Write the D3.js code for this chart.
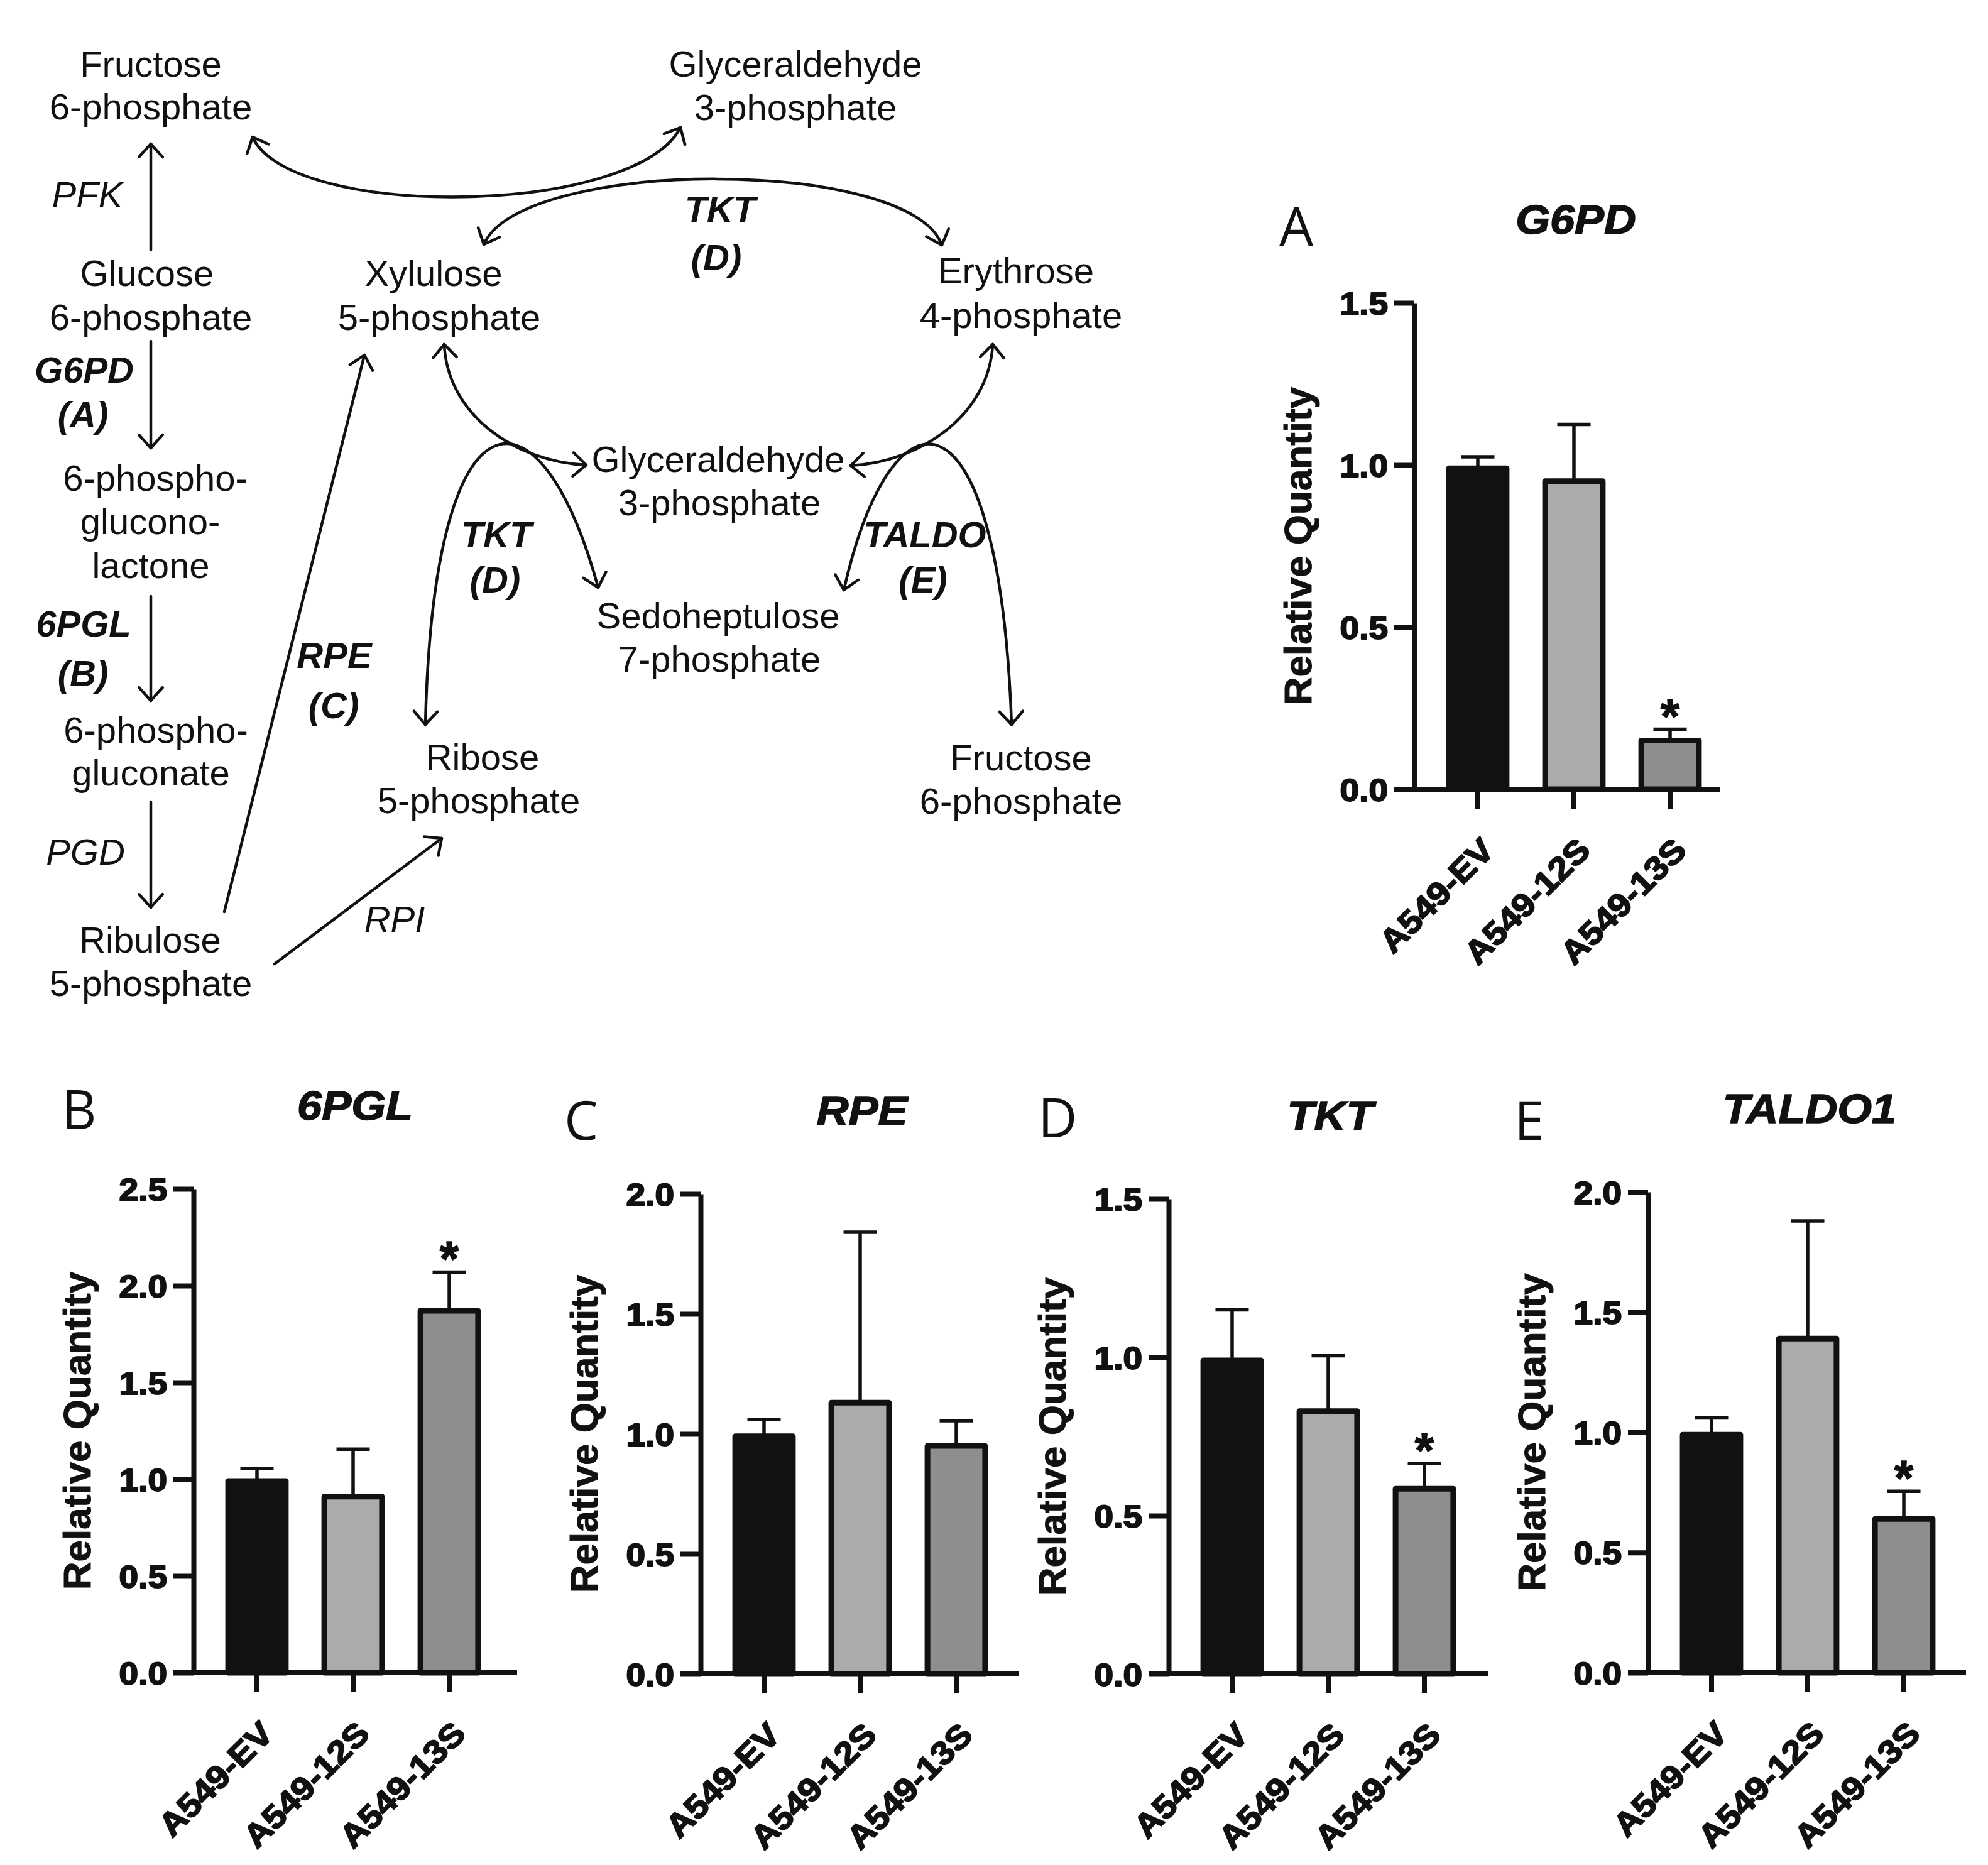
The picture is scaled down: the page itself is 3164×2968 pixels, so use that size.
<!DOCTYPE html>
<html><head><meta charset="utf-8">
<script src="https://cdn.jsdelivr.net/npm/d3@7"></script>
<style>body{margin:0;background:#fff} svg{display:block;background:#fff}</style>
</head><body>
<svg id="fig" width="3164" height="2968"></svg>
<script>
// ---------------- DATA ----------------
const categories = ["A549-EV", "A549-12S", "A549-13S"];
const g6pdValues  = [0.99, 0.95, 0.15];
const g6pdErrors  = [0.035, 0.175, 0.035];
const pglValues   = [0.99, 0.91, 1.87];
const pglErrors   = [0.065, 0.245, 0.2];
const rpeValues   = [0.99, 1.13, 0.95];
const rpeErrors   = [0.07, 0.71, 0.105];
const tktValues   = [0.99, 0.83, 0.585];
const tktErrors   = [0.16, 0.175, 0.08];
const taldoValues = [0.99, 1.39, 0.64];
const taldoErrors = [0.07, 0.49, 0.115];
const g6pdSig  = [false, false, true];
const pglSig   = [false, false, true];
const rpeSig   = [false, false, false];
const tktSig   = [false, false, true];
const taldoSig = [false, false, true];
const ticks15 = [0, 0.5, 1.0, 1.5];
const ticks20 = [0, 0.5, 1.0, 1.5, 2.0];
const ticks25 = [0, 0.5, 1.0, 1.5, 2.0, 2.5];
const yAxisTitle = "Relative Quantity";

// ---------------- STYLE / LAYOUT ----------------
const barColors = ["#121212", "#ababab", "#8e8e8e"];
const ink = "#111";
const FONT = "'Liberation Sans', Arial, Helvetica, sans-serif";
const svg = d3.select("#fig");
svg.append("rect").attr("width", 3164).attr("height", 2968).attr("fill", "#fff");

const panels = [
  {letter: "A", title: "G6PD",   values: g6pdValues,  errors: g6pdErrors,  sig: g6pdSig,  ticks: ticks15, x0: 2251, yTop: 482,  y0: 1256, axisLen: 487, lx: 2036, ly: 392},
  {letter: "B", title: "6PGL",   values: pglValues,   errors: pglErrors,   sig: pglSig,   ticks: ticks25, x0: 308,  yTop: 1892, y0: 2662, axisLen: 515, lx: 98,   ly: 1797},
  {letter: "C", title: "RPE",    values: rpeValues,   errors: rpeErrors,   sig: rpeSig,   ticks: ticks20, x0: 1115, yTop: 1900, y0: 2664, axisLen: 506, lx: 898,  ly: 1814},
  {letter: "D", title: "TKT",    values: tktValues,   errors: tktErrors,   sig: tktSig,   ticks: ticks15, x0: 1860, yTop: 1908, y0: 2664, axisLen: 508, lx: 1652, ly: 1810},
  {letter: "E", title: "TALDO1", values: taldoValues, errors: taldoErrors, sig: taldoSig, ticks: ticks20, x0: 2623, yTop: 1897, y0: 2662, axisLen: 506, lx: 2410, ly: 1814}
];

function heavy(sel, w) {
  return sel.attr("stroke", ink).attr("stroke-width", w).attr("stroke-linejoin", "round");
}

function drawPanel(p) {
  const g = svg.append("g").attr("transform", `translate(${p.x0},0)`);
  const y = d3.scaleLinear().domain([0, p.ticks[p.ticks.length - 1]]).range([p.y0, p.yTop]);
  const x = d3.scaleBand().domain(categories).range([0, 508]).paddingInner(0.4).paddingOuter(0.36);
  const rows = categories.map((c, i) => ({c, v: p.values[i], e: p.errors[i], s: p.sig[i], i}));

  // error bars
  const eb = g.append("g").attr("stroke", ink).attr("stroke-width", 5.5);
  eb.selectAll("line.v").data(rows).join("line")
    .attr("x1", d => x(d.c) + x.bandwidth() / 2).attr("x2", d => x(d.c) + x.bandwidth() / 2)
    .attr("y1", d => y(d.v)).attr("y2", d => y(d.v + d.e));
  eb.selectAll("line.h").data(rows).join("line")
    .attr("x1", d => x(d.c) + x.bandwidth() / 2 - 26.5).attr("x2", d => x(d.c) + x.bandwidth() / 2 + 26.5)
    .attr("y1", d => y(d.v + d.e)).attr("y2", d => y(d.v + d.e));

  // bars
  g.selectAll("rect.bar").data(rows).join("rect")
    .attr("x", d => x(d.c)).attr("y", d => y(d.v))
    .attr("width", x.bandwidth()).attr("height", d => p.y0 - y(d.v))
    .attr("fill", d => barColors[d.i]).attr("stroke", ink).attr("stroke-width", 9)
    .attr("stroke-linejoin", "round");

  // significance
  heavy(g.selectAll("text.sig").data(rows.filter(d => d.s)).join("text")
    .attr("x", d => x(d.c) + x.bandwidth() / 2).attr("y", d => y(d.v + d.e) + 6)
    .attr("text-anchor", "middle").attr("font-family", FONT).attr("font-weight", "bold")
    .attr("font-size", 78).attr("fill", ink).text("*"), 1.5);

  // y axis
  const ya = g.append("g").call(d3.axisLeft(y).tickValues(p.ticks).tickFormat(d3.format(".1f"))
    .tickSize(32).tickPadding(9).tickSizeOuter(0));
  ya.select(".domain").attr("stroke", ink).attr("stroke-width", 8);
  ya.selectAll(".tick line").attr("stroke", ink).attr("stroke-width", 8);
  heavy(ya.selectAll(".tick text").attr("font-family", FONT).attr("font-weight", "bold").attr("font-size", 50)
    .attr("fill", ink).attr("x", 0).attr("dy", "0.36em")
    .attr("transform", "translate(-42,0) scale(1.1,1)"), 2);

  // x axis
  const xa = g.append("g").attr("transform", `translate(0,${p.y0})`)
    .call(d3.axisBottom(x).tickSize(31).tickSizeOuter(0));
  xa.select(".domain").attr("d", `M-32,0H${p.axisLen}`).attr("stroke", ink).attr("stroke-width", 8);
  xa.selectAll(".tick line").attr("stroke", ink).attr("stroke-width", 8);
  heavy(xa.selectAll(".tick text").attr("font-family", FONT).attr("font-weight", "bold").attr("font-size", 52)
    .attr("fill", ink).attr("x", 0).attr("y", 0).attr("dy", 0).attr("text-anchor", "end")
    .attr("transform", "translate(29,100) rotate(-45) scale(1.1,1)"), 2);

  // axis title
  heavy(g.append("text").attr("transform", `translate(-164,${(p.yTop + p.y0) / 2}) rotate(-90)`)
    .attr("text-anchor", "middle").attr("font-family", FONT).attr("font-weight", "bold")
    .attr("font-size", 62).attr("fill", ink).text(yAxisTitle), 1);

  // chart title
  heavy(g.append("text").attr("transform", `translate(257,${p.yTop - 110}) scale(1.1,1)`)
    .attr("text-anchor", "middle").attr("font-family", FONT).attr("font-weight", "bold")
    .attr("font-style", "italic").attr("font-size", 64).attr("fill", ink).text(p.title), 1.5);

  // panel letter
  svg.append("text").attr("x", p.lx).attr("y", p.ly).attr("font-family", "'Open Sans', sans-serif")
    .attr("font-size", 86).attr("fill", ink).text(p.letter);
}
panels.forEach(drawPanel);

// ---------------- PATHWAY DIAGRAM ----------------
const diagramLabels = [
  ["Fructose", 240, 122, "n"], ["6-phosphate", 240, 189.5, "n"],
  ["Glyceraldehyde", 1266, 122, "n"], ["3-phosphate", 1266, 191, "n"],
  ["Glucose", 234, 455, "n"], ["6-phosphate", 240, 525, "n"],
  ["Xylulose", 690, 455, "n"], ["5-phosphate", 699, 525, "n"],
  ["Erythrose", 1617, 451, "n"], ["4-phosphate", 1625, 522, "n"],
  ["6-phospho-", 247, 781, "n"], ["glucono-", 239, 850, "n"], ["lactone", 240, 920, "n"],
  ["6-phospho-", 248, 1182, "n"], ["gluconate", 240, 1250, "n"],
  ["Ribulose", 239, 1516, "n"], ["5-phosphate", 240, 1585, "n"],
  ["Glyceraldehyde", 1143, 751, "n"], ["3-phosphate", 1145, 820, "n"],
  ["Sedoheptulose", 1143, 1000, "n"], ["7-phosphate", 1145, 1069, "n"],
  ["Ribose", 768, 1225, "n"], ["5-phosphate", 762, 1294, "n"],
  ["Fructose", 1625, 1226, "n"], ["6-phosphate", 1625, 1295, "n"],
  ["PFK", 139, 330, "i"], ["PGD", 136, 1376, "i"], ["RPI", 628, 1483, "i"],
  ["G6PD", 134, 609, "bi"], ["(A)", 132, 680, "bi"],
  ["6PGL", 133, 1013, "bi"], ["(B)", 132, 1092, "bi"],
  ["RPE", 532, 1063, "bi"], ["(C)", 531, 1143, "bi"],
  ["TKT", 1146, 353, "bi"], ["(D)", 1140, 430, "bi"],
  ["TKT", 790, 871, "bi"], ["(D)", 788, 943, "bi"],
  ["TALDO", 1472, 871, "bi"], ["(E)", 1469, 943, "bi"]
];
const dg = svg.append("g");
dg.selectAll("text").data(diagramLabels).join("text")
  .attr("x", d => d[1]).attr("y", d => d[2]).attr("text-anchor", "middle")
  .attr("font-family", FONT).attr("font-size", 58).attr("fill", ink)
  .attr("font-style", d => d[3] === "n" ? "normal" : "italic")
  .attr("font-weight", d => d[3] === "bi" ? "bold" : "normal")
  .text(d => d[0]);

const lineG = svg.append("g").attr("fill", "none").attr("stroke", ink).attr("stroke-width", 4.5)
  .attr("stroke-linecap", "round").attr("stroke-linejoin", "round");

function head(tip, from) {
  const dx = tip[0] - from[0], dy = tip[1] - from[1];
  const L = Math.hypot(dx, dy), ux = dx / L, uy = dy / L;
  const len = 28, a = 42 * Math.PI / 180;
  const arm = s => [tip[0] - len * (ux * Math.cos(a) - s * uy * Math.sin(a)),
                    tip[1] - len * (uy * Math.cos(a) + s * ux * Math.sin(a))];
  const p1 = arm(1), p2 = arm(-1);
  lineG.append("path").attr("d", `M${p1[0]},${p1[1]}L${tip[0]},${tip[1]}L${p2[0]},${p2[1]}`);
}

// straight arrows: [x1,y1,x2,y2], head at (x2,y2)
const straightArrows = [
  [240, 398, 240, 229], [240, 543, 240, 713], [240, 949, 240, 1115],
  [240, 1276, 240, 1444], [357, 1451, 580, 565], [437, 1534, 703, 1334]
];
straightArrows.forEach(a => {
  lineG.append("path").attr("d", `M${a[0]},${a[1]}L${a[2]},${a[3]}`);
  head([a[2], a[3]], [a[0], a[1]]);
});

// curved arrows: P0, C1, C2, P3, head at start?, head at end?
const curvedArrows = [
  [[402, 218], [460, 350], [1010, 345], [1083, 203], true, true],
  [[770, 389], [830, 250], [1450, 250], [1499, 390], true, true],
  [[707, 548], [712, 660], [820, 735], [933, 740], true, true],
  [[1580, 548], [1574, 660], [1466, 735], [1354, 741], true, true],
  [[677, 1153], [690, 600], [860, 600], [952, 935], true, true],
  [[1343, 939], [1420, 600], [1590, 600], [1610, 1153], true, true]
];
curvedArrows.forEach(c => {
  const [p0, c1, c2, p3, hs, he] = c;
  const path = d3.path();
  path.moveTo(p0[0], p0[1]);
  path.bezierCurveTo(c1[0], c1[1], c2[0], c2[1], p3[0], p3[1]);
  lineG.append("path").attr("d", path.toString());
  if (hs) head(p0, c1);
  if (he) head(p3, c2);
});
</script>
</body></html>
